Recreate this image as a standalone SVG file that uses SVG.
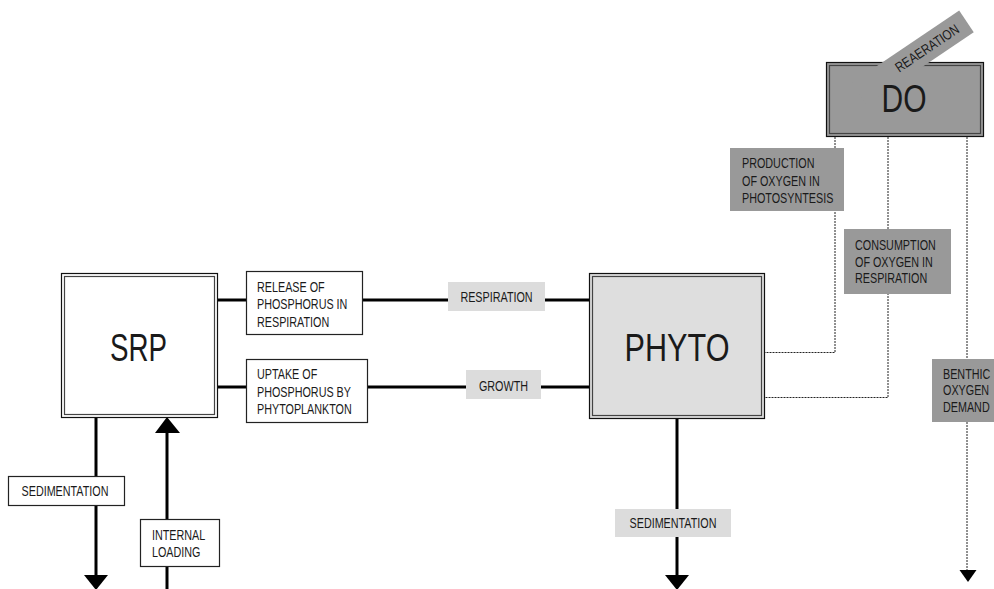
<svg xmlns="http://www.w3.org/2000/svg" width="994" height="589" viewBox="0 0 994 589">
<defs>
<style>
text{font-family:"Liberation Sans",Arial,sans-serif;fill:#1a1a1a}
.s{font-size:14px}
.m{text-anchor:middle}
.big{font-size:39px;text-anchor:middle}
.outer{fill:none;stroke:#111;stroke-width:1.2}
.inner{fill:none;stroke:#444;stroke-width:1.2}
.wbox{fill:#fff;stroke:#222;stroke-width:1.2}
.lg{fill:#dcdcdc}
.dg{fill:#999}
.thick{stroke:#000;stroke-width:3;fill:none}
.dot{stroke:#222;stroke-width:1;stroke-dasharray:2 1;fill:none}
.ah{fill:#000}
</style>
</defs>
<g id="connectors">
<line class="thick" x1="218" y1="300" x2="246" y2="300"/>
<line class="thick" x1="363" y1="300" x2="589" y2="300"/>
<line class="thick" x1="218" y1="387" x2="246" y2="387"/>
<line class="thick" x1="368" y1="387" x2="589" y2="387"/>
<line class="thick" x1="96" y1="415" x2="96" y2="578"/>
<polygon class="ah" points="84,575 108,575 96,590"/>
<line class="thick" x1="167" y1="589" x2="167" y2="430"/>
<polygon class="ah" points="155,433 180,433 167,417"/>
<line class="thick" x1="677" y1="419" x2="677" y2="578"/>
<polygon class="ah" points="665,575 689,575 677,590"/>
<polyline class="dot" points="835,137 835,352.5 765,352.5"/>
<polyline class="dot" points="888,137 888,397.5 765,397.5"/>
<line class="dot" x1="967" y1="137" x2="967" y2="572"/>
<polygon class="ah" points="959.5,570 976.5,570 968,582"/>
</g>
<g id="srp">
<rect x="61" y="273" width="157" height="145" fill="#fff"/>
<rect class="outer" x="61.5" y="273.5" width="156" height="144"/>
<rect class="inner" x="64.5" y="276.5" width="150" height="138"/>
<text class="big" x="138.5" y="361" textLength="57" lengthAdjust="spacingAndGlyphs">SRP</text>
</g>
<g id="phyto">
<rect x="589" y="273" width="176" height="146" fill="#dedede"/>
<rect class="outer" x="589.5" y="273.5" width="175" height="145"/>
<rect class="inner" x="592.5" y="276.5" width="169" height="139"/>
<text class="big" x="677" y="361" textLength="105" lengthAdjust="spacingAndGlyphs">PHYTO</text>
</g>
<g id="do">
<rect x="826" y="62" width="158" height="75" fill="#999"/>
<rect class="outer" x="826.5" y="62.5" width="157" height="74"/>
<rect class="inner" x="829.5" y="65.5" width="151" height="68"/>
</g>
<g id="reaeration">
<g transform="translate(927,48) rotate(-34)">
<rect class="dg" x="-82" y="-13" width="129.6" height="26"/>
<text class="s m" x="0" y="5" transform="scale(0.82,1)">REAERATION</text>
</g>
</g>
<text class="big" x="904" y="112" style="font-size:38px" textLength="45" lengthAdjust="spacingAndGlyphs">DO</text>
<g id="release">
<rect class="wbox" x="246.5" y="271.5" width="116" height="63"/>
<g transform="translate(257,0) scale(0.77,1)">
<text class="s" x="0" y="292">RELEASE OF</text>
<text class="s" x="0" y="309.5">PHOSPHORUS IN</text>
<text class="s" x="0" y="327">RESPIRATION</text>
</g>
</g>
<g id="uptake">
<rect class="wbox" x="246.5" y="359.5" width="121" height="63"/>
<g transform="translate(257,0) scale(0.77,1)">
<text class="s" x="0" y="379">UPTAKE OF</text>
<text class="s" x="0" y="397">PHOSPHORUS BY</text>
<text class="s" x="0" y="414">PHYTOPLANKTON</text>
</g>
</g>
<g id="respiration">
<rect class="lg" x="448" y="282" width="97" height="29"/>
<text class="s m" x="0" y="302" transform="translate(496.5,0) scale(0.77,1)">RESPIRATION</text>
</g>
<g id="growth">
<rect class="lg" x="466" y="370" width="75" height="29"/>
<text class="s m" x="0" y="391" transform="translate(503.5,0) scale(0.77,1)">GROWTH</text>
</g>
<g id="sed-left">
<rect class="wbox" x="8.5" y="476.5" width="116" height="29"/>
<text class="s m" x="0" y="496" transform="translate(65,0) scale(0.77,1)">SEDIMENTATION</text>
</g>
<g id="internal">
<rect class="wbox" x="140.5" y="519.5" width="79" height="47"/>
<g transform="translate(152,0) scale(0.77,1)">
<text class="s" x="0" y="540">INTERNAL</text>
<text class="s" x="0" y="557">LOADING</text>
</g>
</g>
<g id="sed-right">
<rect class="lg" x="615" y="509" width="116" height="28"/>
<text class="s m" x="0" y="528" transform="translate(673,0) scale(0.77,1)">SEDIMENTATION</text>
</g>
<g id="production">
<rect class="dg" x="730" y="148" width="114" height="63"/>
<g transform="translate(742,0) scale(0.77,1)">
<text class="s" x="0" y="168">PRODUCTION</text>
<text class="s" x="0" y="186">OF OXYGEN IN</text>
<text class="s" x="0" y="203">PHOTOSYNTESIS</text>
</g>
</g>
<g id="consumption">
<rect class="dg" x="844" y="229" width="107" height="65"/>
<g transform="translate(855,0) scale(0.77,1)">
<text class="s" x="0" y="250">CONSUMPTION</text>
<text class="s" x="0" y="267">OF OXYGEN IN</text>
<text class="s" x="0" y="283">RESPIRATION</text>
</g>
</g>
<g id="benthic">
<rect class="dg" x="932" y="359" width="62" height="63"/>
<g transform="translate(943,0) scale(0.77,1)">
<text class="s" x="0" y="379">BENTHIC</text>
<text class="s" x="0" y="395">OXYGEN</text>
<text class="s" x="0" y="412">DEMAND</text>
</g>
</g>
</svg>
